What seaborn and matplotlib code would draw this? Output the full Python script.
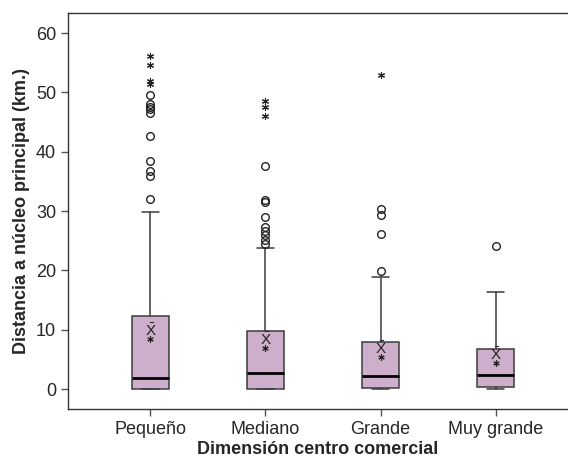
import numpy as np
import matplotlib
matplotlib.use("Agg")
import matplotlib.pyplot as plt
import seaborn as sns

# Summary values
categorias = ["Pequeño", "Mediano", "Grande", "Muy grande"]
q1 = [0.0, 0.0, 0.1, 0.4]
mediana = [1.9, 2.7, 2.2, 2.4]
q3 = [12.35, 9.8, 8.0, 6.8]
bigote_inf = [0.0, 0.0, 0.0, 0.0]
bigote_sup = [29.8, 23.8, 18.9, 16.3]
media = [8.4, 6.9, 5.4, 4.4]

# Outliers (circles) and extremes (stars)
atipicos = [
    [32.0, 35.9, 36.8, 38.5, 42.7, 46.6, 47.2, 47.6, 48.0, 49.6],
    [24.5, 25.2, 25.9, 26.6, 27.3, 29.0, 31.5, 31.8, 37.6],
    [19.9, 26.1, 29.3, 30.4],
    [24.1],
]
extremos = [
    [51.5, 51.9, 54.7, 56.1],
    [46.1, 47.6, 48.6],
    [52.9],
    [],
]

sns.set_style("ticks")
plt.rcParams["font.family"] = ["Liberation Sans", "DejaVu Sans"]
plt.rcParams["mathtext.default"] = "regular"

fig = plt.figure(figsize=(5.68, 4.59), dpi=100)
ax = fig.add_axes([0.1197, 0.1089, 0.8803, 0.8628])

stats = []
for i, c in enumerate(categorias):
    stats.append({
        "label": c, "q1": q1[i], "med": mediana[i], "q3": q3[i],
        "whislo": bigote_inf[i], "whishi": bigote_sup[i], "fliers": [],
    })

pos = np.arange(len(categorias))
ax.bxp(stats, positions=pos, widths=0.32, showfliers=False, patch_artist=True,
       boxprops=dict(facecolor="#cdaecb", edgecolor="#3c3c3c", linewidth=1.1),
       medianprops=dict(color="black", linewidth=2),
       whiskerprops=dict(color="#3c3c3c", linewidth=1.1),
       capprops=dict(color="#3c3c3c", linewidth=1.1),
       capwidths=0.14)

for i in range(len(categorias)):
    if atipicos[i]:
        ax.plot([pos[i]] * len(atipicos[i]), atipicos[i], linestyle="none",
                marker="o", markersize=5.5, markerfacecolor="none",
                markeredgecolor="#222222", markeredgewidth=1.0)
    if extremos[i]:
        ax.plot([pos[i]] * len(extremos[i]), extremos[i], linestyle="none",
                marker=(6, 2, 0), markersize=5, color="#222222", markeredgewidth=0.8)
    # mean marker: X-bar with a star below
    ax.text(pos[i], media[i] + 1.4, r"$\bar{X}$", ha="center", va="center",
            fontsize=11, color="#222222")
    ax.plot(pos[i], media[i], marker=(6, 2, 0), markersize=4.5, color="#222222",
            markeredgewidth=0.8)

ax.set_xlim(-0.717, 3.63)
ax.set_ylim(-3.37, 63.4)
ax.set_yticks([0, 10, 20, 30, 40, 50, 60])
ax.set_xticks(pos)
ax.set_xticklabels(categorias)
ax.tick_params(axis="both", labelsize=13, length=5, width=1, color="#555555")
ax.set_xlabel("Dimensión centro comercial", fontsize=13, fontweight="bold", labelpad=2)
ax.set_ylabel("Distancia a núcleo principal (km.)", fontsize=13, fontweight="bold")

ax.spines["right"].set_visible(False)
for s in ["left", "bottom", "top"]:
    ax.spines[s].set_color("#333333")
    ax.spines[s].set_linewidth(1.0)

fig.savefig("out.png", dpi=100)
